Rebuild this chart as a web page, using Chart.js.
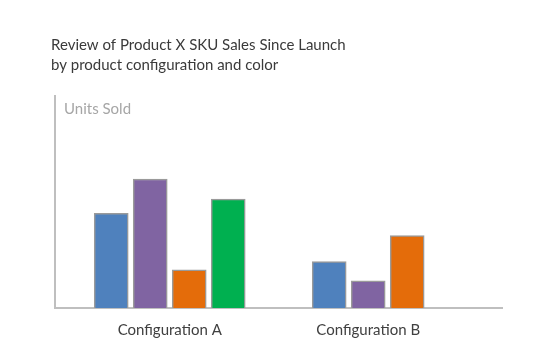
<!DOCTYPE html>
<html>
<head>
<meta charset="utf-8">
<script src="https://cdn.jsdelivr.net/npm/chart.js@4/dist/chart.umd.min.js"></script>
<style>
  html, body { margin: 0; padding: 0; background: #ffffff; }
  #wrap { width: 540px; height: 359px; }
</style>
</head>
<body>
<div id="wrap"><canvas id="c" width="540" height="359"></canvas></div>
<script>
const categories = ['Configuration A', 'Configuration B'];
const seriesNames = ['Blue', 'Purple', 'Orange', 'Green'];
const blueValues = [44.5, 21.8];
const purpleValues = [60.7, 12.8];
const orangeValues = [18.0, 34.1];
const greenValues = [51.2, null];
const titleLines = ['Review of Product X SKU Sales Since Launch', 'by product configuration and color'];
const yAxisLabel = 'Units Sold';

const FONT = 'Lato, "Open Sans", sans-serif';
const colors = ['#4F81BD', '#8064A2', '#E46C0A', '#00B050'];
const seriesValues = [blueValues, purpleValues, orangeValues, greenValues];

// place group centres at these fractions of the axis width
const groupFractions = [0.2567, 0.7007];

const insideLabel = {
  id: 'insideLabel',
  afterDraw(chart) {
    const {ctx, chartArea} = chart;
    ctx.save();
    ctx.font = '15px ' + FONT;
    ctx.fillStyle = '#A6A6A6';
    ctx.textBaseline = 'middle';
    ctx.textAlign = 'left';
    ctx.fillText(yAxisLabel, chartArea.left + 9, chartArea.top + 14);
    ctx.restore();
  }
};

new Chart(document.getElementById('c'), {
  type: 'bar',
  data: {
    labels: categories,
    datasets: seriesNames.map((n, i) => ({
      label: n,
      data: seriesValues[i],
      backgroundColor: colors[i],
      borderColor: '#9A9A9A',
      borderWidth: 1.5,
      borderSkipped: 'bottom',
      barThickness: 39,
      maxBarThickness: 34,
      skipNull: true
    }))
  },
  options: {
    responsive: false,
    animation: false,
    layout: { padding: { left: 51, right: 38, top: 35, bottom: 15 } },
    plugins: {
      legend: { display: false },
      tooltip: { enabled: false },
      title: {
        display: true,
        text: titleLines,
        align: 'start',
        color: '#3A3A3A',
        font: { family: FONT, size: 15, weight: 'normal', lineHeight: 1.35 },
        padding: { top: 0, bottom: 20 }
      }
    },
    scales: {
      x: {
        offset: false,
        grid: { display: false },
        border: { display: true, color: '#BFBFBF', width: 2 },
        ticks: { color: '#404040', font: { family: FONT, size: 15 }, padding: 5 },
        afterBuildTicks(scale) {
          const r = 1 / (groupFractions[1] - groupFractions[0]);
          scale._valueRange = r;
          scale._startValue = -groupFractions[0] * r;
        }
      },
      y: {
        min: 0,
        max: 100,
        grid: { display: false },
        border: { display: true, color: '#BFBFBF', width: 2 },
        ticks: { display: false },
        afterFit(scale) { scale.width = 4; }
      }
    }
  },
  plugins: [insideLabel]
});
</script>
</body>
</html>
